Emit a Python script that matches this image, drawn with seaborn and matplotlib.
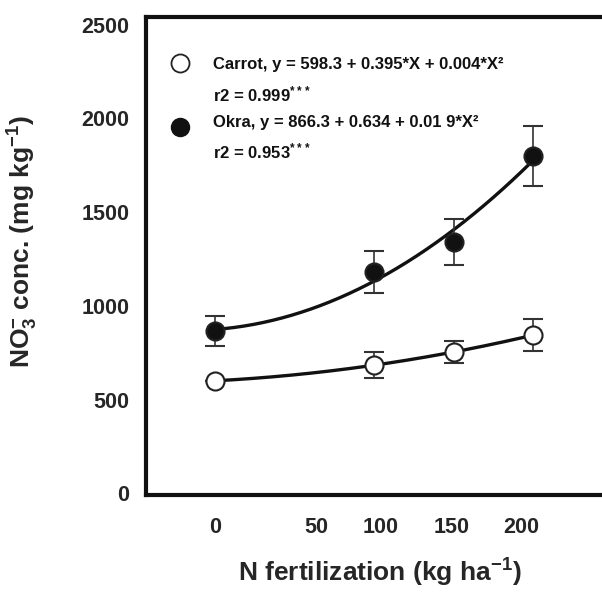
import numpy as np
import pandas as pd
import seaborn as sns
import matplotlib.pyplot as plt

# N fertilization levels (kg/ha) and NO3- concentration (mg/kg)
n_rate = [0, 100, 150, 200]
carrot = [600, 684, 753, 844]
carrot_err = [0, 70, 60, 85]
okra = [866, 1180, 1341, 1800]
okra_err = [80, 112, 125, 160]

x_ticklabels = ["0", "50", "100", "150", "200"]
y_ticks = [0, 500, 1000, 1500, 2000, 2500]

carrot_label = "Carrot, y = 598.3 + 0.395*X + 0.004*X\u00b2"
carrot_r2 = "r2 = 0.999"
okra_label = "Okra, y = 866.3 + 0.634 + 0.01 9*X\u00b2"
okra_r2 = "r2 = 0.953"

sns.set_style("white")
plt.rcParams['font.family'] = ['Liberation Sans', 'DejaVu Sans']
plt.rcParams['font.weight'] = 'bold'
plt.rcParams['mathtext.fontset'] = 'custom'
plt.rcParams['mathtext.rm'] = 'Liberation Sans:bold'
plt.rcParams['mathtext.it'] = 'Liberation Sans:bold'
plt.rcParams['mathtext.bf'] = 'Liberation Sans:bold'

df = pd.DataFrame({"N": n_rate * 2,
                   "NO3": carrot + okra,
                   "err": carrot_err + okra_err,
                   "crop": ["Carrot"] * 4 + ["Okra"] * 4})

fig = plt.figure(figsize=(6.02, 5.93), dpi=100)
ax = fig.add_axes([0.2425, 0.165, 0.76, 0.806])

# quadratic fit curves
xs = np.linspace(0, 200, 200)
for crop in ["Carrot", "Okra"]:
    sub = df[df.crop == crop]
    coef = np.polyfit(sub.N, sub.NO3, 2)
    sns.lineplot(x=xs, y=np.polyval(coef, xs), color="#111111", lw=2.4, ax=ax)

# points with error bars
for crop, face in [("Carrot", "white"), ("Okra", "#111111")]:
    sub = df[df.crop == crop]
    ax.errorbar(sub.N, sub.NO3, yerr=sub.err, fmt="o", ms=13, mfc=face,
                mec="#222222", mew=1.5, ecolor="#333333", elinewidth=1.2,
                capsize=7, capthick=1.2, zorder=3)

ax.set_xlim(-43.4, 244.3)
ax.set_ylim(-10, 2540)
ax.set_xticks([0, 64, 104, 149, 192.5])
ax.set_xticklabels(x_ticklabels)
ax.set_yticks(y_ticks)
ax.tick_params(axis="x", length=0, pad=16, labelsize=15.5)
ax.tick_params(axis="y", length=0, pad=12, labelsize=15.5)
for side in ["left", "top", "bottom"]:
    ax.spines[side].set_linewidth(3)
    ax.spines[side].set_color("#111111")
ax.spines["right"].set_visible(False)

ax.set_ylabel("NO$_3^{-}$ conc. (mg kg$^{-1}$)", fontsize=19, fontweight="bold")
ax.yaxis.set_label_coords(-0.232, 0.53)
ax.set_xlabel("N fertilization (kg ha$^{-1}$)", fontsize=19, fontweight="bold")
ax.xaxis.set_label_coords(0.511, -0.13)

# legend drawn by hand
ax.plot([0.075], [0.905], "o", ms=13, mfc="white", mec="#222222", mew=1.3,
        transform=ax.transAxes, clip_on=False)
ax.plot([0.075], [0.77], "o", ms=13, mfc="#111111", mec="#111111",
        transform=ax.transAxes, clip_on=False)
tx = 0.147
for yy, s in [(0.9, carrot_label), (0.839, carrot_r2 + "$^{***}$"),
              (0.78, okra_label), (0.72, okra_r2 + "$^{***}$")]:
    ax.text(tx, yy, s, transform=ax.transAxes, fontsize=12,
            fontweight="bold", va="center", ha="left", color="#111111")

fig.savefig("out.png", dpi=100)
